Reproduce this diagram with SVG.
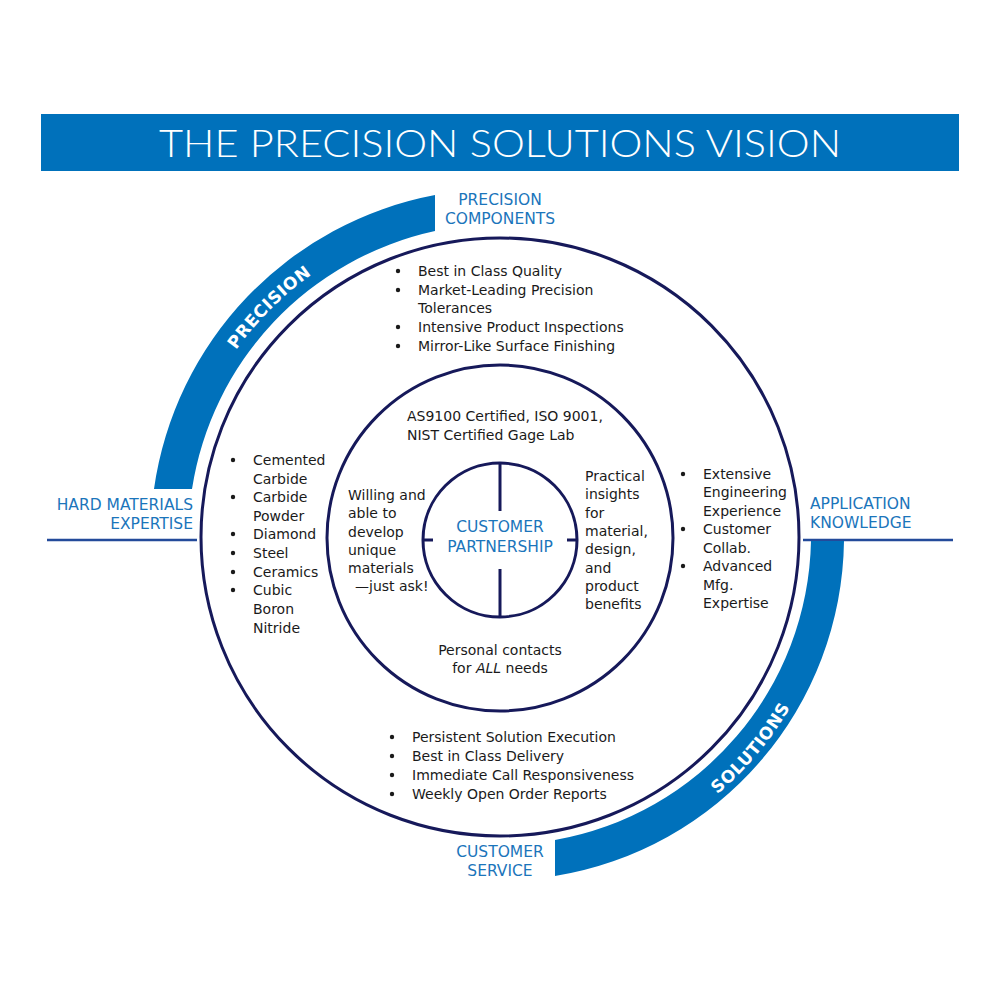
<svg xmlns="http://www.w3.org/2000/svg" width="1000" height="1000" viewBox="0 0 1000 1000">
<defs>
<style>
.ring{fill:none;stroke:#16195a;stroke-width:3}
.hline{fill:none;stroke:#234a9a;stroke-width:2.5}
.band{fill:#0071bb}
.t{font-family:"DejaVu Sans","Liberation Sans",sans-serif;font-size:14px;fill:#1a1a1a}
.lbl{font-family:"DejaVu Sans","Liberation Sans",sans-serif;font-size:15.5px;fill:#1b75bb}
.arc{font-family:"DejaVu Sans","Liberation Sans",sans-serif;font-size:17px;font-weight:bold;fill:#ffffff;letter-spacing:0.5px}
.title{font-family:"Lato","Open Sans","Liberation Sans",sans-serif;font-size:38px;font-weight:300;fill:#ffffff}
.b{fill:#1a1a1a}
</style>
<path id="pPrec" d="M 176 538 A 324 324 0 0 1 824 538"/>
<path id="pSol" d="M 500 874 A 336 336 0 0 0 836 538"/>
</defs>

<g id="title">
<rect x="41" y="114" width="918" height="57" fill="#0071bb"/>
<text class="title" x="500" y="157" text-anchor="middle" textLength="682" lengthAdjust="spacingAndGlyphs">THE PRECISION SOLUTIONS VISION</text>
</g>

<g id="connectors">
<line class="hline" x1="47" y1="540" x2="197" y2="540"/>
<line class="hline" x1="803" y1="540" x2="953" y2="540"/>
</g>

<g id="precision-arc">
<path class="band" d="M 154 489 A 349 349 0 0 1 435 195 L 435 231 A 313 313 0 0 0 192 489 Z"/>
<text class="arc"><textPath href="#pPrec" startOffset="25%" text-anchor="middle">PRECISION</textPath></text>
</g>

<g id="solutions-arc">
<path class="band" d="M 844 541 A 344 344 0 0 1 555 876 L 555 840 A 310 310 0 0 0 811 541 Z"/>
<text class="arc"><textPath href="#pSol" startOffset="55.6%" text-anchor="middle">SOLUTIONS</textPath></text>
</g>

<g id="outer-ring">
<circle class="ring" cx="500" cy="537" r="299"/>
</g>

<g id="middle-ring">
<circle class="ring" cx="500" cy="538" r="173"/>
</g>

<g id="customer-partnership">
<circle class="ring" cx="500" cy="540" r="77"/>
<line class="ring" x1="500" y1="463" x2="500" y2="511"/>
<line class="ring" x1="500" y1="569" x2="500" y2="617"/>
<line class="ring" x1="423" y1="540" x2="433" y2="540"/>
<line class="ring" x1="567" y1="540" x2="577" y2="540"/>
<text class="lbl" text-anchor="middle"><tspan x="500" y="532">CUSTOMER</tspan><tspan x="500" y="552">PARTNERSHIP</tspan></text>
</g>

<g id="label-precision-components">
<text class="lbl" text-anchor="middle"><tspan x="500" y="205">PRECISION</tspan><tspan x="500" y="224">COMPONENTS</tspan></text>
</g>
<g id="label-hard-materials">
<text class="lbl" text-anchor="end"><tspan x="193" y="510">HARD MATERIALS</tspan><tspan x="193" y="529">EXPERTISE</tspan></text>
</g>
<g id="label-application">
<text class="lbl"><tspan x="810" y="509">APPLICATION</tspan><tspan x="810" y="528">KNOWLEDGE</tspan></text>
</g>
<g id="label-customer-service">
<text class="lbl" text-anchor="middle"><tspan x="500" y="857">CUSTOMER</tspan><tspan x="500" y="876">SERVICE</tspan></text>
</g>

<g id="list-top">
<circle class="b" cx="398" cy="271" r="2.2"/>
<circle class="b" cx="398" cy="290" r="2.2"/>
<circle class="b" cx="398" cy="327" r="2.2"/>
<circle class="b" cx="398" cy="346" r="2.2"/>
<text class="t"><tspan x="418" y="275.5">Best in Class Quality</tspan><tspan x="418" y="294.5">Market-Leading Precision</tspan><tspan x="418" y="312.5">Tolerances</tspan><tspan x="418" y="331.5">Intensive Product Inspections</tspan><tspan x="418" y="350.5">Mirror-Like Surface Finishing</tspan></text>
</g>

<g id="certifications">
<text class="t"><tspan x="407" y="420.5">AS9100 Certified, ISO 9001,</tspan><tspan x="407" y="439.5">NIST Certified Gage Lab</tspan></text>
</g>

<g id="willing">
<text class="t"><tspan x="348" y="499.5">Willing and</tspan><tspan x="348" y="517.5">able to</tspan><tspan x="348" y="536.5">develop</tspan><tspan x="348" y="554.5">unique</tspan><tspan x="348" y="572.5">materials</tspan><tspan x="355" y="590.5">—just ask!</tspan></text>
</g>

<g id="practical">
<text class="t"><tspan x="585" y="480.5">Practical</tspan><tspan x="585" y="498.5">insights</tspan><tspan x="585" y="517.5">for</tspan><tspan x="585" y="535.5">material,</tspan><tspan x="585" y="553.5">design,</tspan><tspan x="585" y="572.5">and</tspan><tspan x="585" y="590.5">product</tspan><tspan x="585" y="608.5">benefits</tspan></text>
</g>

<g id="personal">
<text class="t" text-anchor="middle"><tspan x="500" y="654.5">Personal contacts</tspan><tspan x="500" y="672.5">for <tspan font-style="italic">ALL</tspan> needs</tspan></text>
</g>

<g id="list-left">
<circle class="b" cx="233" cy="460" r="2.2"/>
<circle class="b" cx="233" cy="497" r="2.2"/>
<circle class="b" cx="233" cy="534" r="2.2"/>
<circle class="b" cx="233" cy="553" r="2.2"/>
<circle class="b" cx="233" cy="572" r="2.2"/>
<circle class="b" cx="233" cy="590" r="2.2"/>
<text class="t"><tspan x="253" y="464.5">Cemented</tspan><tspan x="253" y="483.5">Carbide</tspan><tspan x="253" y="501.5">Carbide</tspan><tspan x="253" y="520.5">Powder</tspan><tspan x="253" y="538.5">Diamond</tspan><tspan x="253" y="557.5">Steel</tspan><tspan x="253" y="576.5">Ceramics</tspan><tspan x="253" y="594.5">Cubic</tspan><tspan x="253" y="613.5">Boron</tspan><tspan x="253" y="632.5">Nitride</tspan></text>
</g>

<g id="list-right">
<circle class="b" cx="683" cy="474" r="2.2"/>
<circle class="b" cx="683" cy="529" r="2.2"/>
<circle class="b" cx="683" cy="566" r="2.2"/>
<text class="t"><tspan x="703" y="478.5">Extensive</tspan><tspan x="703" y="496.5">Engineering</tspan><tspan x="703" y="515.5">Experience</tspan><tspan x="703" y="533.5">Customer</tspan><tspan x="703" y="552.5">Collab.</tspan><tspan x="703" y="570.5">Advanced</tspan><tspan x="703" y="589.5">Mfg.</tspan><tspan x="703" y="607.5">Expertise</tspan></text>
</g>

<g id="list-bottom">
<circle class="b" cx="392" cy="737" r="2.2"/>
<circle class="b" cx="392" cy="756" r="2.2"/>
<circle class="b" cx="392" cy="775" r="2.2"/>
<circle class="b" cx="392" cy="794" r="2.2"/>
<text class="t"><tspan x="412" y="741.5">Persistent Solution Execution</tspan><tspan x="412" y="760.5">Best in Class Delivery</tspan><tspan x="412" y="779.5">Immediate Call Responsiveness</tspan><tspan x="412" y="798.5">Weekly Open Order Reports</tspan></text>
</g>
</svg>
